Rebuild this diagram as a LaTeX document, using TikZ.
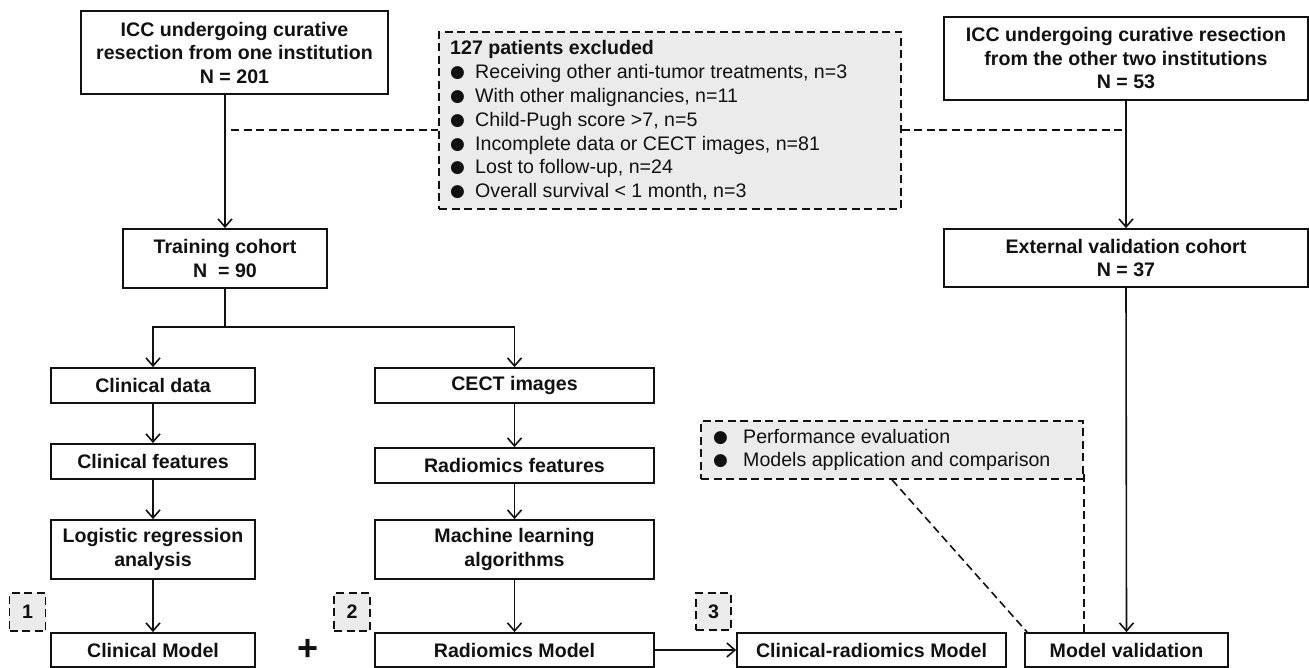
\documentclass[tikz,border=0pt]{standalone}
\usepackage{fontspec}
\setmainfont{Liberation Sans}
\newfontfamily\dejavu{DejaVu Sans}
\usetikzlibrary{arrows.meta}
\definecolor{boxgray}{HTML}{EBEBEB}
\definecolor{ink}{HTML}{111111}
\tikzset{
  box/.style={draw=ink, line width=1.8pt, inner sep=0pt, align=center, text=ink,
    font=\fontsize{19.6}{23.5}\selectfont\bfseries},
  dbox/.style={draw=ink, fill=boxgray, line width=1.6pt, dash pattern=on 8pt off 4.5pt, inner sep=0pt},
  arr/.style={draw=ink, line width=1.6pt, -{Straight Barb[length=8pt,width=14pt,line width=1.6pt]}},
  plain/.style={draw=ink, line width=1.6pt},
  dline/.style={draw=ink, line width=1.6pt, dash pattern=on 8pt off 4.5pt},
  listtext/.style={inner sep=0pt, align=left, anchor=west, text=ink,
    font=\fontsize{19.6}{23.8}\selectfont},
  numtext/.style={text=ink, inner sep=0pt, font=\fontsize{19.6}{23.5}\selectfont\bfseries}
}
\newcommand{\bul}{\makebox[25pt][l]{\raisebox{1pt}{\fontsize{17}{17}\dejavu ●}}}
\newcommand{\bulb}{\makebox[30pt][l]{\raisebox{1pt}{\fontsize{17}{17}\dejavu ●}}}
\begin{document}
\begin{tikzpicture}[x=1pt,y=-1pt]
\useasboundingbox (0,0) rectangle (1309,668);
% top row
\node[box, minimum width=307, minimum height=83] (icc1) at (234.5,52.5)
  {ICC undergoing curative\\resection from one institution\\N = 201};
\node[box, minimum width=364, minimum height=83] (icc2) at (1126,58.5)
  {ICC undergoing curative resection\\from the other two institutions\\N = 53};
\node[dbox, minimum width=462, minimum height=177] (excl) at (670,120.5) {};
\node[listtext] (excltext) at (450,120.5)
  {\textbf{127 patients excluded}\\
   \bul Receiving other anti-tumor treatments, n=3\\
   \bul With other malignancies, n=11\\
   \bul Child-Pugh score >7, n=5\\
   \bul Incomplete data or CECT images, n=81\\
   \bul Lost to follow-up, n=24\\
   \bul Overall survival < 1 month, n=3};
% cohorts
\node[box, minimum width=204, minimum height=59] (train) at (225,258.5) {Training cohort\\N~ = 90};
\node[box, minimum width=364, minimum height=58] (ext) at (1126,258) {External validation cohort\\N = 37};
% clinical column
\node[box, minimum width=204, minimum height=35] (cdata) at (153,385.5) {Clinical data};
\node[box, minimum width=204, minimum height=35] (cfeat) at (153,461.5) {Clinical features};
\node[box, minimum width=204, minimum height=59] (logit) at (153,549.5) {Logistic regression\\analysis};
\node[box, minimum width=204, minimum height=34] (cmodel) at (153,650) {Clinical Model};
% radiomics column
\node[box, minimum width=279, minimum height=35] (cect) at (514.5,385.5) {CECT images};
\node[box, minimum width=279, minimum height=35] (rfeat) at (514.5,465.5) {Radiomics features};
\node[box, minimum width=279, minimum height=59] (ml) at (514.5,549.5) {Machine learning\\algorithms};
\node[box, minimum width=279, minimum height=34] (rmodel) at (514.5,650) {Radiomics Model};
% bottom right
\node[box, minimum width=269, minimum height=34] (crmodel) at (871.5,650) {Clinical-radiomics Model};
\node[box, minimum width=203, minimum height=34] (mval) at (1126.5,650) {Model validation};
\node[dbox, minimum width=382, minimum height=58] (perf) at (892,450) {};
\node[listtext] (perftext) at (713,450)
  {\bulb Performance evaluation\\ \bulb Models application and comparison};
% number tags
\node[dbox, minimum width=36, minimum height=38] (n1) at (27.5,612) {};
\node[numtext] (n1t) at (n1) {1};
\node[dbox, minimum width=36, minimum height=38] (n2) at (352,612) {};
\node[numtext] (n2t) at (n2) {2};
\node[dbox, minimum width=35, minimum height=37] (n3) at (713.5,611.5) {};
\node[numtext] (n3t) at (n3) {3};
\node[text=ink, inner sep=0pt, font=\fontsize{36}{36}\selectfont\bfseries] (plus) at (308,650) {+};
% connectors
\draw[arr] (train.north |- icc1.south) -- (train.north);
\coordinate (dl) at (231,130);
\draw[dline] (dl) -- (dl -| excl.west);
\draw[dline] (excl.east |- dl) -- (icc2.south |- dl);
\draw[arr] (icc2.south) -- (ext.north);
\coordinate (sp) at (225,327);
\draw[plain] (train.south) -- (sp);
\draw[arr] (sp) -| (cdata.north);
\draw[arr] (sp) -| (cect.north);
\draw[arr] (cdata) -- (cfeat);
\draw[arr] (cfeat) -- (logit);
\draw[arr] (logit) -- (cmodel);
\draw[arr] (cect) -- (rfeat);
\draw[arr] (rfeat) -- (ml);
\draw[arr] (ml) -- (rmodel);
\draw[arr] (rmodel) -- (crmodel);
\draw[arr] (ext.south) -- (mval.north);
\draw[dline] (perf.south) -- ([xshift=3pt]mval.north west);
\coordinate (pv) at ([yshift=6pt]perf.south east);
\draw[dline] (pv) -- (pv |- mval.north);
\end{tikzpicture}
\end{document}
